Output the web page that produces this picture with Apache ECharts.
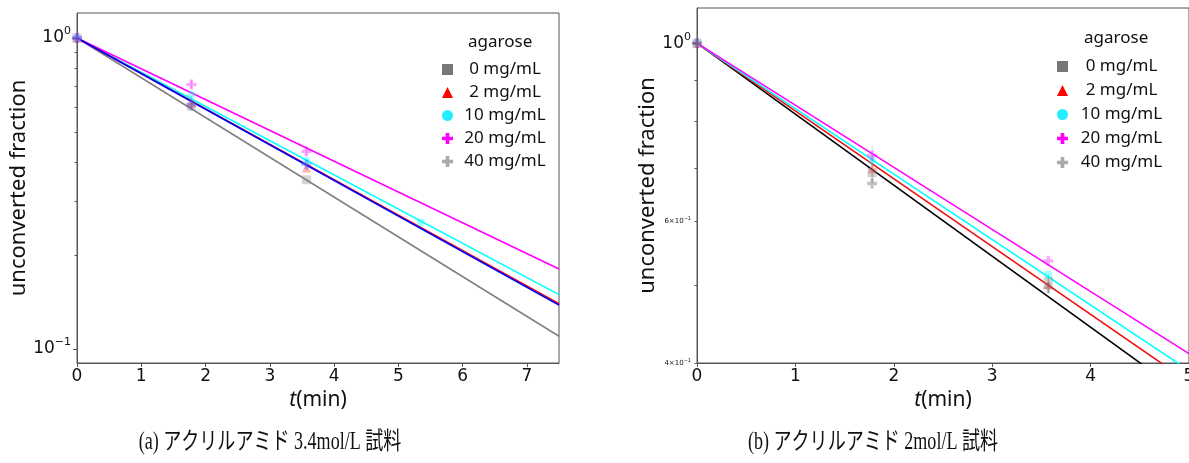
<!DOCTYPE html>
<html>
<head>
<meta charset="utf-8">
<script src="https://cdn.jsdelivr.net/npm/echarts@6/dist/echarts.min.js"></script>
<style>
  html, body { margin: 0; padding: 0; background: #fff; }
  #chart { width: 1189px; height: 463px; }
</style>
</head>
<body>
<div id="chart"></div>
<script>
// ---------- data: (a) acrylamide 3.4 mol/L ----------
const concNames = ['0 mg/mL', '2 mg/mL', '10 mg/mL', '20 mg/mL', '40 mg/mL'];

const timesA = [0, 1.78, 3.57];
const timesA10 = [0, 1.78, 3.57, 5.35];
const a0mg = [1.0, 0.603, 0.350];
const a2mg = [1.0, 0.618, 0.382];
const a10mg = [1.0, 0.657, 0.403, 0.255];
const a20mg = [1.0, 0.708, 0.432];
const a40mg = [1.0, 0.610, 0.392];
// fitted first-order decay lines, value at t = 0 and t = 7.5 min
const fitA_t = [0, 7.5];
const fitA0 = [1.0, 0.1098];
const fitA2 = [1.0, 0.1398];
const fitA10 = [1.0, 0.1495];
const fitA20 = [1.0, 0.1808];
const fitA40 = [1.0, 0.1385];
// error bars: [t, low, high]
const errA0 = [[1.78, 0.585, 0.650]];
const errA20 = [[1.78, 0.690, 0.730], [3.57, 0.420, 0.445]];

// ---------- data: (b) acrylamide 2 mol/L ----------
const timesB = [0, 1.78, 3.57];
const b0mg = [1.0, 0.690, 0.505];
const b2mg = [1.0, 0.698, 0.501];
const b10mg = [1.0, 0.715, 0.515];
const b20mg = [1.0, 0.725, 0.536];
const b40mg = [1.0, 0.669, 0.496];
const fitB_t = [0, 5];
const fitB0 = [1.0, 0.3616];
const fitB2 = [1.0, 0.3786];
const fitB10 = [1.0, 0.3915];
const fitB20 = [1.0, 0.4109];
const errB40 = [[1.78, 0.669, 0.725], [3.57, 0.488, 0.515]];
const errB10 = [[1.78, 0.700, 0.745]];

// ---------- tick values ----------
const xTicksA = [0, 1, 2, 3, 4, 5, 6, 7];
const xTicksB = [0, 1, 2, 3, 4, 5];
const yMajorA = [0.1, 1];
const yMinorA = [0.2, 0.3, 0.4, 0.5, 0.6, 0.7, 0.8, 0.9];
const yMajorB = [1];
const yMinorB = [0.4, 0.5, 0.6, 0.7, 0.8, 0.9];
const yLabelsB = [0.4, 0.6, 1];

// ---------- styling helpers ----------
const plusPath = 'path://M4,0H8V4H12V8H8V12H4V8H0V4H4Z';
const AXIS = '#555';
const TEXT = '#111';
const tickFont = 'DejaVu Sans';
const labelFont = 'Noto Sans';

const zip = (ts, vs) => ts.map((t, i) => [t, vs[i]]);

function scatter(name, grid, ts, vs, symbol, color, size) {
  return {
    type: 'scatter', name, xAxisIndex: grid, yAxisIndex: grid,
    data: zip(ts, vs), symbol, symbolSize: size || 8,
    itemStyle: { color, opacity: 0.35 }, z: 4, silent: true
  };
}
function fitLine(grid, ts, vs, color, z) {
  return {
    type: 'line', xAxisIndex: grid, yAxisIndex: grid,
    data: zip(ts, vs), showSymbol: false, symbol: 'none',
    lineStyle: { color, width: 1.6 }, z: z || 3, silent: true, clip: true
  };
}
function errBars(grid, rows, color) {
  return {
    type: 'custom', xAxisIndex: grid, yAxisIndex: grid,
    data: rows, encode: { x: 0, y: [1, 2] }, z: 4, silent: true,
    renderItem: (params, api) => {
      const p1 = api.coord([api.value(0), api.value(1)]);
      const p2 = api.coord([api.value(0), api.value(2)]);
      return { type: 'line', shape: { x1: p1[0], y1: p1[1], x2: p2[0], y2: p2[1] },
               style: { stroke: color, lineWidth: 1, opacity: 0.5 } };
    }
  };
}
// outward y ticks on the left spine, placed through the log scale
function yTicks(grid, values, len) {
  return {
    type: 'custom', xAxisIndex: grid, yAxisIndex: grid, clip: false, silent: true, z: 5,
    data: values.map(v => [0, v]), encode: { x: 0, y: 1 },
    renderItem: (params, api) => {
      const p = api.coord([api.value(0), api.value(1)]);
      const y = Math.round(p[1]) + 0.5;
      return { type: 'line', shape: { x1: p[0] - len, y1: y, x2: p[0], y2: y },
               style: { stroke: AXIS, lineWidth: 1 } };
    }
  };
}

function xAxis(grid, max, ticks) {
  return {
    type: 'value', gridIndex: grid, min: 0, max, interval: 1,
    name: '{i|t}{n|(min)}', nameLocation: 'middle', nameGap: 27,
    nameTextStyle: { rich: {
      i: { fontFamily: labelFont, fontStyle: 'italic', fontSize: 21, color: TEXT },
      n: { fontFamily: labelFont, fontSize: 21, color: TEXT } } },
    axisLine: { lineStyle: { color: AXIS, width: 1 } },
    axisTick: { customValues: ticks, length: 4, lineStyle: { color: AXIS } },
    axisLabel: { customValues: ticks, fontFamily: tickFont, fontSize: 17, color: TEXT, margin: 5 },
    splitLine: { show: false }
  };
}
const labelRich = {
  b: { fontFamily: tickFont, fontSize: 17, color: TEXT, lineHeight: 24 },
  s: { fontFamily: tickFont, fontSize: 11, color: TEXT, verticalAlign: 'top' },
  m: { fontFamily: tickFont, fontSize: 7, color: TEXT, lineHeight: 10 },
  t: { fontFamily: tickFont, fontSize: 5, color: TEXT, verticalAlign: 'top' }
};
function yAxis(grid, min, max, labels, fmt, gap) {
  return {
    type: 'log', logBase: 10, gridIndex: grid, min, max, position: 'left',
    name: 'unconverted fraction', nameLocation: 'middle', nameGap: gap, nameRotate: 90,
    nameTextStyle: { fontFamily: labelFont, fontSize: 22, color: TEXT },
    axisLine: { lineStyle: { color: AXIS, width: 1 } },
    axisTick: { show: false },
    axisLabel: { customValues: labels, formatter: fmt, color: TEXT, margin: 6, rich: labelRich },
    splitLine: { show: false }
  };
}

const fmtA = v => (Math.abs(v - 1) < 1e-6 ? '{b|10}{s|0}' : Math.abs(v - 0.1) < 1e-6 ? '{b|10}{s|−1}' : '');
const fmtB = v => {
  if (Math.abs(v - 1) < 1e-6) return '{b|10}{s|0}';
  const m = Math.round(v * 10);
  return '{m|' + m + '×10}{t|−1}';
};

function legend(left, top, gap, width) {
  const icons = ['rect', 'triangle', 'circle', plusPath, plusPath];
  const colors = ['#777777', '#ff0000', '#22eeff', '#ff00ff', '#aaaaaa'];
  return {
    left, top, orient: 'vertical', itemGap: gap, itemWidth: 11, itemHeight: 11,
    selectedMode: false,
    data: concNames.map((n, i) => ({ name: n, icon: icons[i], itemStyle: { color: colors[i], opacity: 1, borderWidth: 0 } })),
    formatter: '{t|{name}}',
    textStyle: { rich: { t: { width: width, align: 'center', fontFamily: labelFont, fontSize: 17, lineHeight: 17, color: TEXT } } }
  };
}

const captionFont = '"Liberation Serif", "Noto Sans CJK JP"';
const chart = echarts.init(document.getElementById('chart'), null, { renderer: 'canvas' });
chart.setOption({
  backgroundColor: '#fff',
  animation: false,
  grid: [
    { left: 77, top: 13, width: 482, height: 350, show: true, borderColor: AXIS, borderWidth: 1, outerBoundsMode: 'none' },
    { left: 697, top: 8, width: 492, height: 355, show: true, borderColor: AXIS, borderWidth: 1, outerBoundsMode: 'none' }
  ],
  xAxis: [xAxis(0, 7.5, xTicksA), xAxis(1, 5, xTicksB)],
  yAxis: [
    yAxis(0, 0.0901, 1.203, yMajorA, fmtA, 47),
    yAxis(1, 0.4, 1.106, yLabelsB, fmtB, 37)
  ],
  legend: [legend(437, 56, 6, 94), legend(1052, 53, 7, 97)],
  graphic: [
    { type: 'text', left: 468, top: 34, style: { text: 'agarose', fontFamily: labelFont, fontSize: 17, fill: TEXT } },
    { type: 'text', left: 1084, top: 30, style: { text: 'agarose', fontFamily: labelFont, fontSize: 17, fill: TEXT } },
    { type: 'text', x: 270, y: 443, scaleX: 0.82, scaleY: 1.1, style: { text: '(a) アクリルアミド 3.4mol/L 試料', fontFamily: captionFont, fontSize: 22, fill: TEXT, align: 'center', verticalAlign: 'middle' } },
    { type: 'text', x: 873, y: 443, scaleX: 0.82, scaleY: 1.1, style: { text: '(b) アクリルアミド 2mol/L 試料', fontFamily: captionFont, fontSize: 22, fill: TEXT, align: 'center', verticalAlign: 'middle' } }
  ],
  series: [
    // (a)
    yTicks(0, yMajorA, 4),
    yTicks(0, yMinorA, 2.5),
    fitLine(0, fitA_t, fitA0, '#808080', 3),
    fitLine(0, fitA_t, fitA10, '#00ffff', 3),
    fitLine(0, fitA_t, fitA20, '#ff00ff', 3),
    fitLine(0, fitA_t, fitA2, '#ff0000', 3),
    fitLine(0, fitA_t, fitA40, '#0000ff', 3),
    errBars(0, errA0, '#888888'),
    errBars(0, errA20, '#ff66ff'),
    scatter('0 mg/mL', 0, timesA, a0mg, 'rect', '#888888', 9),
    scatter('2 mg/mL', 0, timesA, a2mg, 'triangle', '#ff2222', 9),
    scatter('10 mg/mL', 0, timesA10, a10mg, 'circle', '#00ffff', 8),
    scatter('20 mg/mL', 0, timesA, a20mg, plusPath, '#ff00ff', 10),
    scatter('40 mg/mL', 0, timesA, a40mg, plusPath, '#3344ff', 10),
    // (b)
    yTicks(1, yMajorB, 4),
    yTicks(1, yMinorB, 2.5),
    fitLine(1, fitB_t, fitB0, '#000000', 3),
    fitLine(1, fitB_t, fitB2, '#ee1111', 3),
    fitLine(1, fitB_t, fitB10, '#00ffff', 3),
    fitLine(1, fitB_t, fitB20, '#ff00ff', 3),
    errBars(1, errB40, '#666666'),
    errBars(1, errB10, '#44ddee'),
    scatter('0 mg/mL', 1, timesB, b0mg, 'rect', '#777777', 9),
    scatter('2 mg/mL', 1, timesB, b2mg, 'triangle', '#ff3333', 9),
    scatter('10 mg/mL', 1, timesB, b10mg, 'circle', '#00ffff', 8),
    scatter('20 mg/mL', 1, timesB, b20mg, plusPath, '#ff00ff', 10),
    scatter('40 mg/mL', 1, timesB, b40mg, plusPath, '#555555', 10)
  ]
});
</script>
</body>
</html>
